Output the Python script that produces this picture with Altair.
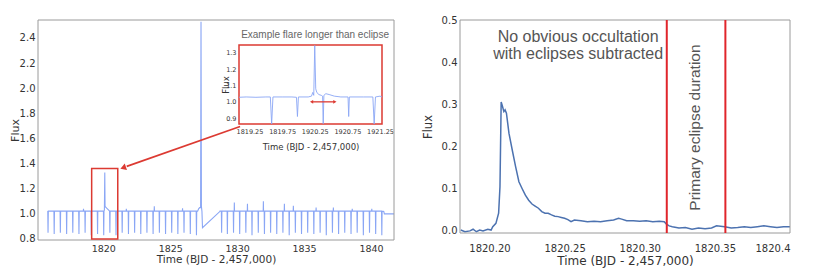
import altair as alt
import pandas as pd

# ---------------- left panel: full light curve ----------------
MAIN_X_DOMAIN = [1815.12, 1841.72]
MAIN_Y_DOMAIN = [0.792, 2.543]
MAIN_X_TICKS = [1820, 1825, 1830, 1835, 1840]
MAIN_Y_TICKS = [0.8, 1.0, 1.2, 1.4, 1.6, 1.8, 2.0, 2.2, 2.4]

BASELINE = 1.022
SEG_STARTS = [1815.85, 1828.72]
SEG_ENDS = [1827.05, 1840.95]

DIP_TIMES = [1815.87, 1816.33, 1816.79, 1817.26, 1817.72, 1818.18, 1818.64, 1819.10,
             1819.57, 1820.03, 1820.49, 1820.95, 1821.41, 1821.88, 1822.34, 1822.80,
             1823.26, 1823.72, 1824.19, 1824.65, 1825.11, 1825.57, 1826.03, 1826.50,
             1826.96,
             1828.84, 1829.27, 1829.73, 1830.19, 1830.65, 1831.11, 1831.58, 1832.04,
             1832.50, 1832.96, 1833.42, 1833.89, 1834.35, 1834.81, 1835.27, 1835.73,
             1836.20, 1836.66, 1837.12, 1837.58, 1838.04, 1838.51, 1838.97, 1839.43,
             1839.89, 1840.35, 1840.81]
DIP_DEPTHS = [0.85, 0.84, 0.85, 0.84, 0.85, 0.84, 0.85, 0.83, 0.84, 0.83, 0.85, 0.83,
              0.85, 0.84, 0.85, 0.84, 0.85, 0.84, 0.85, 0.84, 0.85, 0.84, 0.85, 0.84,
              0.83,
              0.85, 0.84, 0.85, 0.84, 0.85, 0.83, 0.85, 0.84, 0.85, 0.84, 0.85, 0.83,
              0.85, 0.84, 0.85, 0.84, 0.85, 0.83, 0.85, 0.84, 0.85, 0.84, 0.85, 0.83,
              0.85, 0.84, 0.83]
SPIKE_TIMES = [1818.52, 1821.72, 1823.81, 1825.92, 1829.79, 1830.77, 1831.96,
               1833.53, 1834.20, 1835.90, 1837.19, 1838.60, 1840.06]
SPIKE_PEAKS = [1.04, 1.04, 1.06, 1.045, 1.09, 1.08, 1.10, 1.08, 1.065, 1.05, 1.05,
               1.04, 1.04]
FLARE1_T = [1820.08, 1820.11, 1820.13, 1820.16, 1820.25, 1820.40]
FLARE1_F = [1.03, 1.33, 1.06, 1.055, 1.045, 1.03]
FLARE2_T = [1827.12, 1827.20, 1827.27, 1827.30, 1827.33, 1827.37, 1827.41, 1828.72]
FLARE2_F = [1.04, 1.05, 1.05, 2.53, 1.06, 1.02, 0.89, 1.02]
TAIL_T = [1840.95, 1841.00, 1841.72]
TAIL_F = [1.02, 1.0, 1.0]

ZOOM_BOX_T = [1819.13, 1821.08]
ZOOM_BOX_F = [0.80, 1.362]
ARROW_T = [1830.22, 1821.75]
ARROW_F = [1.696, 1.378]
ARROW_HEAD = [1821.55, 1.37]

# ---------------- inset ----------------
INSET_X_DOMAIN = [1819.09, 1821.28]
INSET_Y_DOMAIN = [0.864, 1.349]
INSET_X_TICKS = [1819.25, 1819.75, 1820.25, 1820.75, 1821.25]
INSET_Y_TICKS = [0.9, 1.0, 1.1, 1.2, 1.3]
INSET_T = [1819.09, 1819.20, 1819.35, 1819.50, 1819.57, 1819.59, 1819.61, 1819.75,
           1819.90, 1819.97, 1819.985, 1820.00, 1820.15, 1820.20, 1820.22, 1820.235,
           1820.25, 1820.265, 1820.28, 1820.31, 1820.35, 1820.37, 1820.38, 1820.39,
           1820.42, 1820.47, 1820.55, 1820.65, 1820.76, 1820.77, 1820.78, 1821.00,
           1821.14, 1821.16, 1821.18, 1821.25, 1821.28]
INSET_F = [1.028, 1.030, 1.028, 1.030, 1.030, 0.864, 1.030, 1.030,
           1.030, 1.028, 0.910, 1.030, 1.030, 1.035, 1.058, 1.040,
           1.345, 1.080, 1.060, 1.045, 1.040, 1.035, 0.866, 1.040,
           1.050, 1.045, 1.035, 1.030, 1.030, 0.910, 1.030, 1.030,
           1.030, 0.864, 1.030, 1.035, 1.030]
INSET_ARROW_T = [1820.21, 1820.55]
INSET_ARROW_F = 1.0
INSET_TITLE = "Example flare longer than eclipse"
INSET_TITLE_POS = [1820.255, 1.41]

# ---------------- right panel: eclipse-subtracted flare ----------------
RIGHT_X_DOMAIN = [1820.1804, 1820.40]
RIGHT_Y_DOMAIN = [-0.007, 0.5]
RIGHT_X_TICKS = [1820.20, 1820.25, 1820.30, 1820.35, 1820.40]
RIGHT_Y_TICKS = [0.0, 0.1, 0.2, 0.3, 0.4, 0.5]
RIGHT_T = [1820.1809, 1820.1837, 1820.1870, 1820.1891, 1820.1913, 1820.1935, 1820.1957,
           1820.1989, 1820.2011, 1820.2022, 1820.2043, 1820.2061, 1820.2070, 1820.2078,
           1820.2087, 1820.2096, 1820.2104, 1820.2113, 1820.2130, 1820.2152, 1820.2174,
           1820.2196, 1820.2217, 1820.2239, 1820.2261, 1820.2283, 1820.2304, 1820.2326,
           1820.2348, 1820.2370, 1820.2391, 1820.2413, 1820.2435, 1820.2457, 1820.2478,
           1820.2500, 1820.2522, 1820.2543, 1820.2565, 1820.2609, 1820.2652, 1820.2696,
           1820.2739, 1820.2783, 1820.2826, 1820.2859, 1820.2880, 1820.2913, 1820.2957,
           1820.3000, 1820.3043, 1820.3087, 1820.3130, 1820.3163, 1820.3178, 1820.3196,
           1820.3217, 1820.3261, 1820.3304, 1820.3348, 1820.3391, 1820.3435, 1820.3478,
           1820.3511, 1820.3565, 1820.3609, 1820.3652, 1820.3696, 1820.3739, 1820.3783,
           1820.3826, 1820.3870, 1820.3913, 1820.3957, 1820.4000]
RIGHT_F = [0.000, -0.004, -0.002, 0.002, -0.004, 0.000, -0.002,
           0.002, 0.000, 0.008, 0.016, 0.040, 0.103, 0.305,
           0.294, 0.282, 0.286, 0.278, 0.230, 0.190, 0.151,
           0.115, 0.099, 0.083, 0.071, 0.062, 0.057, 0.052,
           0.044, 0.040, 0.040, 0.036, 0.033, 0.032, 0.030,
           0.028, 0.025, 0.020, 0.024, 0.022, 0.020, 0.021,
           0.020, 0.022, 0.024, 0.028, 0.026, 0.022, 0.022,
           0.021, 0.022, 0.020, 0.021, 0.020, 0.014, 0.010,
           0.008, 0.005, 0.006, 0.002, 0.005, 0.003, 0.005,
           0.010, 0.008, 0.005, 0.006, 0.008, 0.006, 0.008,
           0.010, 0.008, 0.006, 0.008, 0.008]
ECLIPSE_LINES = [1820.318, 1820.357]
NOTE_LINES = ["No obvious occultation", "with eclipses subtracted"]
NOTE_POS_T = 1820.259
NOTE_POS_F = [0.460, 0.418]
ECLIPSE_LABEL = "Primary eclipse duration"
ECLIPSE_LABEL_POS = [1820.337, 0.244]

XTITLE = "Time (BJD - 2,457,000)"
YTITLE = "Flux"

# ---------------- layout (pixel ranges inside the shared plot area) ----------------
W, H = 752, 220
MAIN_XR, MAIN_YR = [0, 356], [220, 0]
INSET_XR, INSET_YR = [201, 344], [104, 25]
RIGHT_XR, RIGHT_YR = [422, 752], [213, 0]

BLUE_LIGHT = "#8aa6f5"
BLUE_DARK = "#4c72b0"
RED = "#dc3a32"
FRAME = "#9a9a9a"
FONT = "DejaVu Sans"
TXT = "#333333"

# ---------- build main series ----------
pts = []
for s, e in zip(SEG_STARTS, SEG_ENDS):
    pts += [(s, BASELINE), (e, BASELINE)]
for t, d in zip(DIP_TIMES, DIP_DEPTHS):
    pts += [(t - 0.02, BASELINE), (t, d), (t + 0.02, BASELINE)]
for t, p in zip(SPIKE_TIMES, SPIKE_PEAKS):
    pts += [(t - 0.012, BASELINE), (t, p), (t + 0.012, BASELINE)]
pts += list(zip(FLARE1_T, FLARE1_F)) + list(zip(FLARE2_T, FLARE2_F)) + list(zip(TAIL_T, TAIL_F))
pts.sort()
main_df = pd.DataFrame(pts, columns=["t", "f"])


def sx(dom, rng):
    return alt.Scale(domain=dom, range=rng, nice=False, zero=False)


def xaxis(offset, values, title_y, label_pad, lsize, tsize, **kw):
    return alt.Axis(orient="bottom", offset=offset, values=values, title=XTITLE,
                    grid=False, domain=False, ticks=False, labelPadding=label_pad,
                    labelFont=FONT, labelFontSize=lsize, labelColor=TXT,
                    titleFont=FONT, titleFontSize=tsize, titleColor=TXT,
                    titleFontWeight="normal", titleY=title_y, titleBaseline="middle", **kw)


def yaxis(offset, values, title_x, lsize, tsize):
    return alt.Axis(orient="left", offset=offset, values=values, format=".1f", title=YTITLE,
                    grid=False, domain=False, ticks=False, labelPadding=3,
                    labelFont=FONT, labelFontSize=lsize, labelColor=TXT,
                    titleFont=FONT, titleFontSize=tsize, titleColor=TXT,
                    titleFontWeight="normal", titleX=title_x, titleBaseline="middle")


main_xaxis = xaxis(0, MAIN_X_TICKS, 19.5, 3, 9.5, 10.5, format="d")
main_yaxis = yaxis(0, MAIN_Y_TICKS, -23, 10, 11)


def main_enc():
    return dict(
        x=alt.X("t:Q", scale=sx(MAIN_X_DOMAIN, MAIN_XR), axis=main_xaxis),
        y=alt.Y("f:Q", scale=sx(MAIN_Y_DOMAIN, MAIN_YR), axis=main_yaxis),
    )


main_line = alt.Chart(main_df).mark_line(color=BLUE_LIGHT, strokeWidth=1.1).encode(**main_enc())

frame_df = pd.DataFrame({"t": [MAIN_X_DOMAIN[0]], "t2": [MAIN_X_DOMAIN[1]],
                         "f": [MAIN_Y_DOMAIN[0]], "f2": [MAIN_Y_DOMAIN[1]]})
main_frame = alt.Chart(frame_df).mark_rect(fill=None, stroke=FRAME, strokeWidth=1).encode(
    **main_enc(), x2="t2:Q", y2="f2:Q")

box_df = pd.DataFrame({"t": [ZOOM_BOX_T[0]], "t2": [ZOOM_BOX_T[1]],
                       "f": [ZOOM_BOX_F[0]], "f2": [ZOOM_BOX_F[1]]})
main_box = alt.Chart(box_df).mark_rect(fill=None, stroke=RED, strokeWidth=1.5).encode(
    **main_enc(), x2="t2:Q", y2="f2:Q")

arrow_df = pd.DataFrame({"t": [ARROW_T[0]], "t2": [ARROW_T[1]],
                         "f": [ARROW_F[0]], "f2": [ARROW_F[1]]})
main_arrow = alt.Chart(arrow_df).mark_rule(color=RED, strokeWidth=1.6).encode(
    **main_enc(), x2="t2:Q", y2="f2:Q")
head_df = pd.DataFrame({"t": [ARROW_HEAD[0]], "f": [ARROW_HEAD[1]]})
main_head = alt.Chart(head_df).mark_point(shape="triangle", filled=True, color=RED,
                                          opacity=1, size=45, angle=250.5).encode(**main_enc())

main_layer = alt.layer(main_line, main_frame, main_box, main_arrow, main_head)

# ---------- inset ----------
inset_df = pd.DataFrame({"t": INSET_T, "f": INSET_F})

inset_xaxis = xaxis(-(H - INSET_YR[0]), INSET_X_TICKS, 22, 4, 6.5, 8.5,
                    labelExpr="datum.value < 1820 ? format(datum.value, '.2f') : format(datum.value + 100, '.2f')")
inset_yaxis = yaxis(-INSET_XR[0], INSET_Y_TICKS, -14, 6.5, 8.5)


def inset_enc():
    return dict(
        x=alt.X("t:Q", scale=sx(INSET_X_DOMAIN, INSET_XR), axis=inset_xaxis),
        y=alt.Y("f:Q", scale=sx(INSET_Y_DOMAIN, INSET_YR), axis=inset_yaxis),
    )


inset_line = alt.Chart(inset_df).mark_line(color=BLUE_LIGHT, strokeWidth=0.9).encode(**inset_enc())
inset_frame_df = pd.DataFrame({"t": [INSET_X_DOMAIN[0]], "t2": [INSET_X_DOMAIN[1]],
                               "f": [INSET_Y_DOMAIN[0]], "f2": [INSET_Y_DOMAIN[1]]})
inset_frame = alt.Chart(inset_frame_df).mark_rect(fill=None, stroke=RED, strokeWidth=1.5).encode(
    **inset_enc(), x2="t2:Q", y2="f2:Q")
iarrow_df = pd.DataFrame({"t": [INSET_ARROW_T[0]], "t2": [INSET_ARROW_T[1]],
                          "f": [INSET_ARROW_F]})
inset_arrow = alt.Chart(iarrow_df).mark_rule(color=RED, strokeWidth=1.3).encode(
    **inset_enc(), x2="t2:Q")
ihead_df = pd.DataFrame({"t": INSET_ARROW_T, "f": [INSET_ARROW_F, INSET_ARROW_F],
                         "a": [270, 90]})
inset_heads = alt.Chart(ihead_df).mark_point(shape="triangle", filled=True, color=RED,
                                             opacity=1, size=14).encode(
    **inset_enc(), angle=alt.Angle("a:Q", scale=None))
ititle_df = pd.DataFrame({"t": [INSET_TITLE_POS[0]], "f": [INSET_TITLE_POS[1]],
                          "txt": [INSET_TITLE]})
inset_title = alt.Chart(ititle_df).mark_text(font="Liberation Sans", fontSize=10,
                                             color="#666666", baseline="middle",
                                             align="center").encode(
    **inset_enc(), text="txt:N")

inset_layer = alt.layer(inset_frame, inset_line, inset_arrow, inset_heads, inset_title)

# ---------- right panel ----------
right_df = pd.DataFrame({"t": RIGHT_T, "f": RIGHT_F})

right_xaxis = xaxis(-(H - RIGHT_YR[0]), RIGHT_X_TICKS, 27, 10, 10, 12,
                    labelExpr="datum.value > 1820.39 ? '1820.4' : format(datum.value, '.2f')")
right_yaxis = yaxis(-RIGHT_XR[0], RIGHT_Y_TICKS, -32, 10, 11.5)


def right_enc():
    return dict(
        x=alt.X("t:Q", scale=sx(RIGHT_X_DOMAIN, RIGHT_XR), axis=right_xaxis),
        y=alt.Y("f:Q", scale=sx(RIGHT_Y_DOMAIN, RIGHT_YR), axis=right_yaxis),
    )


right_line = alt.Chart(right_df).mark_line(color=BLUE_DARK, strokeWidth=1.5).encode(**right_enc())
rframe_df = pd.DataFrame({"t": [RIGHT_X_DOMAIN[0]], "t2": [RIGHT_X_DOMAIN[1]],
                          "f": [RIGHT_Y_DOMAIN[0]], "f2": [RIGHT_Y_DOMAIN[1]]})
right_frame = alt.Chart(rframe_df).mark_rect(fill=None, stroke=FRAME, strokeWidth=1).encode(
    **right_enc(), x2="t2:Q", y2="f2:Q")
ecl_df = pd.DataFrame({"t": ECLIPSE_LINES, "f": [RIGHT_Y_DOMAIN[0]] * 2,
                       "f2": [RIGHT_Y_DOMAIN[1]] * 2})
right_ecl = alt.Chart(ecl_df).mark_rule(color="#e0252b", strokeWidth=2).encode(
    **right_enc(), y2="f2:Q")
note_df = pd.DataFrame({"t": [NOTE_POS_T] * 2, "f": NOTE_POS_F, "txt": NOTE_LINES})
right_note = alt.Chart(note_df).mark_text(font="Liberation Sans", fontSize=16,
                                          color="#555555", baseline="middle",
                                          align="center").encode(**right_enc(), text="txt:N")
elabel_df = pd.DataFrame({"t": [ECLIPSE_LABEL_POS[0]], "f": [ECLIPSE_LABEL_POS[1]],
                          "txt": [ECLIPSE_LABEL]})
right_elabel = alt.Chart(elabel_df).mark_text(font="Liberation Sans", fontSize=15.5,
                                              color="#555555", baseline="middle",
                                              align="center", angle=270).encode(
    **right_enc(), text="txt:N")

right_layer = alt.layer(right_line, right_frame, right_ecl, right_note, right_elabel)

chart = alt.layer(main_layer, inset_layer, right_layer).resolve_scale(
    x="independent", y="independent"
).properties(
    width=W, height=H,
    autosize=alt.AutoSizeParams(type="none"),
    padding={"left": 30, "top": 12, "right": 24, "bottom": 32},
    background="white",
).configure_view(stroke=None)

chart.save("out.html", embed_options={"renderer": "svg", "actions": False})
